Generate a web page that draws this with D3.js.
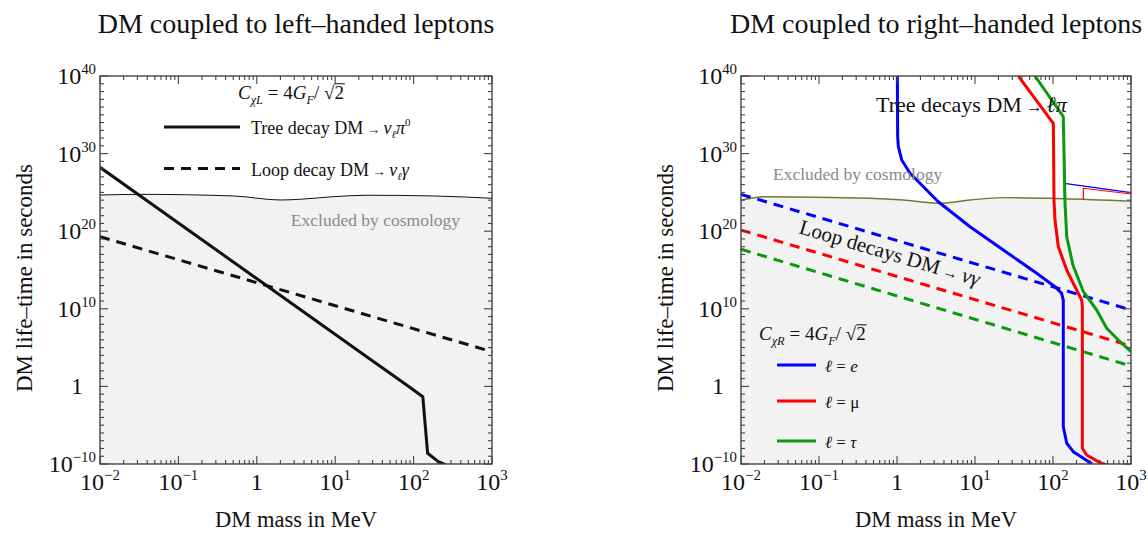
<!DOCTYPE html>
<html>
<head>
<meta charset="utf-8">
<script src="https://cdn.jsdelivr.net/npm/d3@7"></script>
<style>
body { margin: 0; background: #fff; }
svg { display: block; font-family: "Liberation Serif", "DejaVu Serif", serif; }
</style>
</head>
<body>
<div id="chart"></div>
<script>
var W = 1148, H = 534;

// axes
var massDomain = [1e-2, 1e3];
var lifeDomain = [1e-10, 1e40];
var massTicks = [1e-2, 1e-1, 1, 1e1, 1e2, 1e3];
var massLabels = [["10", "\u22122"], ["10", "\u22121"], ["1", ""], ["10", "1"], ["10", "2"], ["10", "3"]];
var lifeTicks = [1e-10, 1, 1e10, 1e20, 1e30, 1e40];
var lifeLabels = [["10", "\u221210"], ["1", ""], ["10", "10"], ["10", "20"], ["10", "30"], ["10", "40"]];

// left panel: [mass MeV, lifetime s]
var cosmoLeft = [[0.01, 4.6e24], [0.032, 5.6e24], [0.5, 3.5e24], [1.98, 1.05e24], [3.56, 1.3e24],
                 [9.4, 2.8e24], [25.5, 4.3e24], [177, 3.5e24], [1000, 1.74e24]];
var treeLeft = [[0.01, 1.7e28], [25.2, 6.7e3], [81.5, 1.5], [104, 0.26], [131, 0.047],
                [151, 2.4e-9], [207, 2e-10], [263, 7.4e-11]];
var loopLeft = [[0.01, 1.95e19], [1000, 2.95e4]];

// right panel
var cosmoRight = [[0.01, 1.05e24], [0.0203, 2.8e24], [0.45, 1.74e24], [1.2, 1.05e24], [3.56, 4e23],
                  [8.63, 1.05e24], [23.1, 2.1e24], [135, 1.55e24], [1000, 7.6e23]];
var cosmoStepE = [[140, 1.5e24], [140, 1.48e26], [1000, 9.1e24]];
var cosmoStepMu = [[245, 1.26e24], [245, 3.4e25], [1000, 6.2e24]];

var treeE = [[1.01, 1e40], [1.02, 1.5e32], [1.04, 7.8e30], [1.15, 1.5e29], [1.47, 2.9e27], [1.97, 1.5e26],
             [3.38, 6.3e23], [8.63, 3.8e20], [23.1, 3.8e17], [61.8, 3.7e14], [106, 7.1e12], [129, 1e12],
             [135.5, 1.35e11], [135.5, 6.3e-6], [150, 4.7e-8], [182, 3.9e-9], [245, 5.4e-10], [316, 1e-10]];
var treeMu = [[35.9, 1e40], [101, 7.9e33], [103, 1.05e24], [106, 2.8e21], [117, 1e18], [150, 1e15],
              [201, 2.6e12], [233, 1.35e11], [238, 1.9e10], [238, 1.05e-8], [270, 1.45e-9],
              [401, 1.5e-10], [489, 7.4e-11]];
var treeTau = [[58.7, 1e40], [135.5, 5.7e34], [142.6, 4e23], [150, 1.95e19], [180, 4.4e15],
               [245, 1.6e12], [363, 7e9], [488, 3.1e7], [687, 9.5e5], [970, 4e4], [1000, 3e4]];
var loopE = [[0.01, 5.6e24], [1000, 7.1e9]];
var loopMu = [[0.01, 1.4e20], [1000, 1.6e5]];
var loopTau = [[0.01, 4.7e17], [1000, 4.3e2]];

var flavours = ["e", "\u03bc", "\u03c4"];
var flavourItalic = [true, false, true];
var colBlue = "#0000ff", colRed = "#ff0000", colGreen = "#0a9a0a";
var frameCol = "#444", fillCol = "#f2f2f2", ink = "#111";

var svg = d3.select("#chart").append("svg")
	.attr("width", W)
	.attr("height", H);

function powLabel(t, lab, fs) {
	t.append("tspan").attr("font-size", fs).text(lab[0]);
	if (lab[1]) t.append("tspan").attr("font-size", fs * 0.62).attr("dy", -fs * 0.42).text(lab[1]);
}

function makePanel(p) {
	var x = d3.scaleLog().domain(massDomain).range([p.left, p.left + p.width]);
	var y = d3.scaleLog().domain(lifeDomain).range([p.top + p.height, p.top]);
	var g = svg.append("g");

	svg.append("clipPath").attr("id", "clip" + p.id)
		.append("rect")
		.attr("x", p.left).attr("y", p.top)
		.attr("width", p.width).attr("height", p.height);

	var plot = g.append("g").attr("clip-path", "url(#clip" + p.id + ")");

	var area = d3.area()
		.x(function(d) { return x(d[0]); })
		.y0(p.top + p.height)
		.y1(function(d) { return y(d[1]); })
		.curve(d3.curveMonotoneX);
	plot.append("path").datum(p.cosmo)
		.attr("d", area)
		.attr("fill", fillCol);

	return { x: x, y: y, g: g, plot: plot, p: p };
}

function lineGen(P, curved) {
	return d3.line()
		.x(function(d) { return P.x(d[0]); })
		.y(function(d) { return P.y(d[1]); })
		.curve(curved ? d3.curveMonotoneX : d3.curveLinear);
}

function drawLine(P, data, col, w, dash, curved) {
	P.plot.append("path").datum(data)
		.attr("d", lineGen(P, curved))
		.attr("fill", "none")
		.attr("stroke", col)
		.attr("stroke-width", w)
		.attr("stroke-dasharray", dash || null)
		.attr("stroke-linejoin", "round");
}

// inward ticks on a frame edge
function edgeTicks(P, vals, len, side) {
	var p = P.p, bottom = p.top + p.height, right = p.left + p.width;
	var horiz = side === "bottom" || side === "top";
	var base = { bottom: bottom, top: p.top, left: p.left, right: right }[side];
	var dir = (side === "bottom" || side === "right") ? -1 : 1;
	var s = horiz ? P.x : P.y;
	P.g.append("g").selectAll("line")
		.data(vals).enter().append("line")
		.attr(horiz ? "x1" : "y1", function(d) { return s(d); })
		.attr(horiz ? "x2" : "y2", function(d) { return s(d); })
		.attr(horiz ? "y1" : "x1", base)
		.attr(horiz ? "y2" : "x2", base + dir * len)
		.attr("stroke", frameCol)
		.attr("stroke-width", 1.1);
}

function isDecade(v) {
	var l = Math.log10(v);
	return Math.abs(l - Math.round(l)) < 1e-9;
}

function drawFrame(P) {
	var p = P.p, x = P.x, y = P.y;
	var bottom = p.top + p.height;
	var minorX = x.ticks().filter(function(v) { return !isDecade(v); });
	var minorY = d3.range(-10, 41).filter(function(k) { return k % 10 !== 0; })
		.map(function(k) { return Math.pow(10, k); });

	["bottom", "top"].forEach(function(s) {
		edgeTicks(P, massTicks, 8, s);
		edgeTicks(P, minorX, 4, s);
	});
	["left", "right"].forEach(function(s) {
		edgeTicks(P, lifeTicks, 8, s);
		edgeTicks(P, minorY, 4, s);
	});

	P.g.append("rect")
		.attr("x", p.left).attr("y", p.top)
		.attr("width", p.width).attr("height", p.height)
		.attr("fill", "none")
		.attr("stroke", frameCol)
		.attr("stroke-width", 1.4);

	P.g.append("g").selectAll("text")
		.data(massTicks).enter().append("text")
		.attr("x", function(d) { return x(d); })
		.attr("y", bottom + 26)
		.attr("text-anchor", "middle")
		.attr("fill", ink)
		.each(function(d, i) { powLabel(d3.select(this), massLabels[i], 24); });

	P.g.append("g").selectAll("text")
		.data(lifeTicks).enter().append("text")
		.attr("x", function(d) { return p.left - (d === 1 ? 17 : 4); })
		.attr("y", function(d) { return y(d) + 8; })
		.attr("text-anchor", "end")
		.attr("fill", ink)
		.each(function(d, i) { powLabel(d3.select(this), lifeLabels[i], 24); });

	svg.append("text")
		.attr("x", p.left + p.width / 2)
		.attr("y", 33)
		.attr("text-anchor", "middle")
		.attr("font-size", 28)
		.attr("fill", ink)
		.text(p.title);

	svg.append("text")
		.attr("x", p.left + p.width / 2)
		.attr("y", 527)
		.attr("text-anchor", "middle")
		.attr("font-size", 22.5)
		.attr("fill", ink)
		.text("DM mass in MeV");

	svg.append("text")
		.attr("transform", "translate(" + (p.left - 68) + ",278) rotate(-90)")
		.attr("text-anchor", "middle")
		.attr("font-size", 23)
		.attr("fill", ink)
		.text("DM life\u2013time in seconds");
}

// C_chi = 4 G_F / sqrt2
function coupling(x, y, sub, fs) {
	var t = svg.append("text").attr("x", x).attr("y", y).attr("font-size", fs).attr("fill", ink);
	t.append("tspan").attr("font-style", "italic").text("C");
	t.append("tspan").attr("font-style", "italic").attr("font-size", fs * 0.65).attr("dy", fs * 0.28).text("\u03c7" + sub);
	t.append("tspan").attr("dy", -fs * 0.28).text(" = 4");
	t.append("tspan").attr("font-style", "italic").text("G");
	t.append("tspan").attr("font-style", "italic").attr("font-size", fs * 0.65).attr("dy", fs * 0.28).text("F");
	t.append("tspan").attr("dy", -fs * 0.28).text("/ \u221a2");
	var n = t.node().getNumberOfChars();
	var b = t.node().getExtentOfChar(n - 1);
	svg.append("line")
		.attr("x1", b.x).attr("x2", b.x + b.width + 1)
		.attr("y1", y - fs * 0.8).attr("y2", y - fs * 0.8)
		.attr("stroke", ink).attr("stroke-width", 1);
}

function arrowText(t, fs, before, parts) {
	t.append("tspan").text(before);
	t.append("tspan").attr("font-size", fs * 0.75).text(" \u2192 ");
	parts.forEach(function(q) {
		var s = t.append("tspan").attr("font-style", "italic").text(q[0]);
		if (q[1] === "sub") s.attr("font-size", fs * 0.6).attr("dy", fs * 0.2);
		if (q[1] === "back") s.attr("dy", -fs * 0.2);
		if (q[1] === "sup") s.attr("font-size", fs * 0.6).attr("dy", -fs * 0.42).attr("font-style", "normal");
	});
}

// ---------- left panel ----------
var L = makePanel({ id: "L", left: 100, top: 76, width: 392, height: 388, cosmo: cosmoLeft,
	title: "DM coupled to left\u2013handed leptons" });
drawLine(L, cosmoLeft, ink, 1, null, true);
drawLine(L, loopLeft, ink, 3, "10,7");
drawLine(L, treeLeft, ink, 3);

L.g.append("text")
	.attr("x", 460).attr("y", 226)
	.attr("text-anchor", "end")
	.attr("font-size", 17.5)
	.attr("fill", "#8a8a8a")
	.text("Excluded by cosmology");

drawFrame(L);

coupling(238, 99, "L", 19);
svg.append("line").attr("x1", 164).attr("x2", 240).attr("y1", 127).attr("y2", 127)
	.attr("stroke", ink).attr("stroke-width", 3);
svg.append("line").attr("x1", 164).attr("x2", 240).attr("y1", 168.5).attr("y2", 168.5)
	.attr("stroke", ink).attr("stroke-width", 3).attr("stroke-dasharray", "10,7");
arrowText(svg.append("text").attr("x", 251).attr("y", 134).attr("font-size", 18).attr("fill", ink), 18,
	"Tree decay DM", [["\u03bd"], ["\u2113", "sub"], ["\u03c0", "back"], ["0", "sup"]]);
arrowText(svg.append("text").attr("x", 251).attr("y", 176).attr("font-size", 18).attr("fill", ink), 18,
	"Loop decay DM", [["\u03bd"], ["\u2113", "sub"], ["\u03b3", "back"]]);

// ---------- right panel ----------
var R = makePanel({ id: "R", left: 741, top: 76, width: 390, height: 388, cosmo: cosmoRight,
	title: "DM coupled to right\u2013handed leptons" });
drawLine(R, cosmoRight, "#6b7a35", 1.4, null, true);
drawLine(R, cosmoStepE, colBlue, 1.2);
drawLine(R, cosmoStepMu, colRed, 1.2);
drawLine(R, loopE, colBlue, 3, "10,7");
drawLine(R, loopMu, colRed, 3, "10,7");
drawLine(R, loopTau, colGreen, 3, "10,7");
drawLine(R, treeE, colBlue, 3);
drawLine(R, treeMu, colRed, 3);
drawLine(R, treeTau, colGreen, 3);

R.g.append("text")
	.attr("x", 773).attr("y", 180)
	.attr("font-size", 17.5)
	.attr("fill", "#8a8a8a")
	.text("Excluded by cosmology");

arrowText(R.g.append("text").attr("x", 876).attr("y", 112).attr("font-size", 22).attr("fill", ink), 22,
	"Tree decays DM", [["\u2113"], ["\u03c0"]]);

var ang = Math.atan2(R.y(loopE[1][1]) - R.y(loopE[0][1]), R.x(loopE[1][0]) - R.x(loopE[0][0])) * 180 / Math.PI;
arrowText(R.g.append("text")
	.attr("transform", "translate(798,233) rotate(" + ang + ")")
	.attr("font-size", 21).attr("fill", ink), 21,
	"Loop decays DM", [["\u03bd"], ["\u03b3"]]);

drawFrame(R);

coupling(759, 340, "R", 19);
var legCols = [colBlue, colRed, colGreen];
var legY = [365, 401, 441];
legCols.forEach(function(c, i) {
	svg.append("line").attr("x1", 777).attr("x2", 816).attr("y1", legY[i]).attr("y2", legY[i])
		.attr("stroke", c).attr("stroke-width", 3);
	var t = svg.append("text").attr("x", 825).attr("y", legY[i] + 7).attr("font-size", 17).attr("fill", ink);
	t.append("tspan").attr("font-style", "italic").text("\u2113");
	t.append("tspan").text(" = ");
	t.append("tspan").attr("font-style", flavourItalic[i] ? "italic" : "normal").text(flavours[i]);
});
</script>
</body>
</html>
